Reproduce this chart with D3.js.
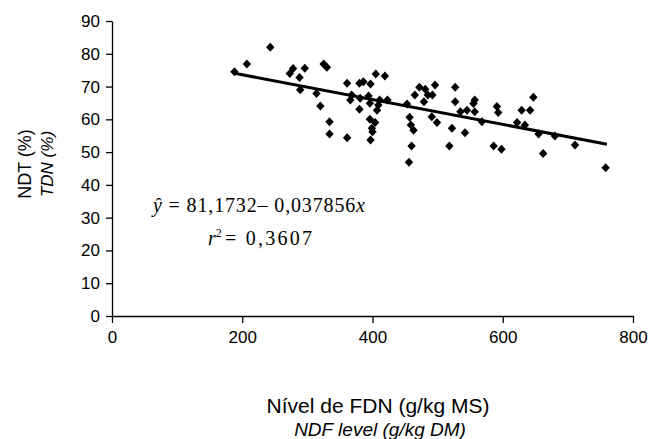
<!DOCTYPE html>
<html>
<head>
<meta charset="utf-8">
<script src="https://cdn.jsdelivr.net/npm/d3@7"></script>
<style>
  body { margin: 0; background: #fff; }
  svg { display: block; }
</style>
</head>
<body>
<svg id="chart" width="660" height="439"></svg>
<script>
// NDF level (x, g/kg DM) vs TDN (y, %)
const ndf = [188, 207, 243, 273, 278, 288, 289, 296, 314, 320, 325, 330, 334, 334,
  361, 361, 366, 368, 380, 386, 397, 405, 419, 381, 394, 396, 380, 409, 407, 411,
  423, 396, 404, 399, 400, 397, 453, 457, 459, 463, 460, 456, 465, 472, 481, 479,
  485, 492, 496, 491, 499, 527, 527, 522, 518, 535, 545, 542, 555, 557, 557, 568,
  591, 593, 586, 598, 629, 642, 647, 622, 634, 655, 662, 680, 711, 758];
const tdn = [74.5, 76.9, 82.0, 74.0, 75.5, 72.8, 69.0, 75.6, 67.9, 64.1, 76.9, 75.9, 59.3, 55.5,
  71.0, 54.4, 65.9, 67.4, 71.0, 71.5, 70.8, 73.8, 73.2, 66.4, 67.1, 64.9, 63.1, 64.4, 62.8, 65.9,
  65.9, 60.0, 59.0, 57.3, 56.2, 53.7, 64.7, 60.6, 58.3, 56.7, 51.9, 46.9, 67.4, 69.8, 69.2, 65.4,
  67.4, 67.4, 70.5, 60.8, 59.0, 69.8, 65.4, 57.3, 51.9, 62.3, 62.8, 55.9, 64.8, 65.9, 62.3, 59.3,
  63.9, 62.1, 51.9, 50.9, 62.8, 62.8, 66.7, 59.0, 58.3, 55.5, 49.6, 54.9, 52.2, 45.2];

const xTicks = [0, 200, 400, 600, 800];
const yTicks = [0, 10, 20, 30, 40, 50, 60, 70, 80, 90];

// regression y = 81.1732 - 0.037856x, drawn over the data range
const fitIntercept = 81.1732;
const fitSlope = -0.037856;
const fitRange = [190, 760];

const svg = d3.select('#chart');
const sans = '"Liberation Sans", Arial, sans-serif';
const serif = '"Liberation Serif", "Times New Roman", serif';

const xScale = d3.scaleLinear().domain([0, 800]).range([112, 633]);
const yScale = d3.scaleLinear().domain([0, 90]).range([316, 21]);

const points = ndf.map((v, i) => ({ x: v, y: tdn[i] }));

// axes
const xAxis = d3.axisBottom(xScale).tickValues(xTicks).tickSize(7).tickSizeOuter(0).tickPadding(8);
const yAxis = d3.axisLeft(yScale).tickValues(yTicks).tickSize(6).tickSizeOuter(0).tickPadding(6);

const gx = svg.append('g')
  .attr('transform', `translate(0, ${yScale(0)})`)
  .call(xAxis);
const gy = svg.append('g')
  .attr('transform', `translate(${xScale(0)}, 0)`)
  .call(yAxis);

[gx, gy].forEach(g => {
  g.selectAll('path, line').attr('stroke', '#000').attr('stroke-width', 1.3);
  g.selectAll('text')
    .attr('fill', '#000')
    .style('font-family', sans)
    .style('font-size', '17px');
});

// points (diamonds)
svg.append('g')
  .selectAll('path')
  .data(points)
  .enter()
  .append('path')
  .attr('transform', d => `translate(${xScale(d.x)}, ${yScale(d.y)})`)
  .attr('d', 'M0,-4.5L4.2,0L0,4.5L-4.2,0Z')
  .attr('fill', '#000');

// trend line
const fitLine = d3.line()
  .x(d => xScale(d))
  .y(d => yScale(fitIntercept + fitSlope * d));

svg.append('path')
  .attr('d', fitLine(fitRange))
  .attr('stroke', '#000')
  .attr('stroke-width', 3)
  .attr('fill', 'none');

// equation
const eq = svg.append('text')
  .attr('x', 153)
  .attr('y', 212)
  .attr('textLength', 212)
  .attr('lengthAdjust', 'spacing')
  .style('font-family', serif)
  .style('font-size', '20px')
  .attr('fill', '#000');
eq.append('tspan').style('font-style', 'italic').text('\u0177');
eq.append('tspan').text(' = 81,1732\u2013 0,037856');
eq.append('tspan').style('font-style', 'italic').text('x');

const r2 = svg.append('text')
  .attr('x', 208)
  .attr('y', 245)
  .style('font-family', serif)
  .style('font-size', '20px')
  .attr('fill', '#000');
r2.append('tspan').style('font-style', 'italic').text('r');
r2.append('tspan').attr('dy', -8).style('font-size', '12px').text('2');
svg.append('text')
  .attr('x', 225)
  .attr('y', 245)
  .attr('textLength', 87)
  .attr('lengthAdjust', 'spacing')
  .style('font-family', serif)
  .style('font-size', '20px')
  .attr('fill', '#000')
  .text('= 0,3607');

// y axis titles
svg.append('text')
  .attr('transform', 'translate(31, 164) rotate(-90)')
  .attr('text-anchor', 'middle')
  .style('font-family', sans)
  .style('font-size', '18px')
  .text('NDT (%)');
svg.append('text')
  .attr('transform', 'translate(53, 164) rotate(-90)')
  .attr('text-anchor', 'middle')
  .style('font-family', sans)
  .style('font-size', '17px')
  .style('font-style', 'italic')
  .text('TDN (%)');

// x axis titles
svg.append('text')
  .attr('x', 378)
  .attr('y', 413)
  .attr('text-anchor', 'middle')
  .style('font-family', sans)
  .style('font-size', '21px')
  .text('Nível de FDN (g/kg MS)');
svg.append('text')
  .attr('x', 380)
  .attr('y', 436)
  .attr('text-anchor', 'middle')
  .style('font-family', sans)
  .style('font-size', '19px')
  .style('font-style', 'italic')
  .text('NDF level (g/kg DM)');
</script>
</body>
</html>
